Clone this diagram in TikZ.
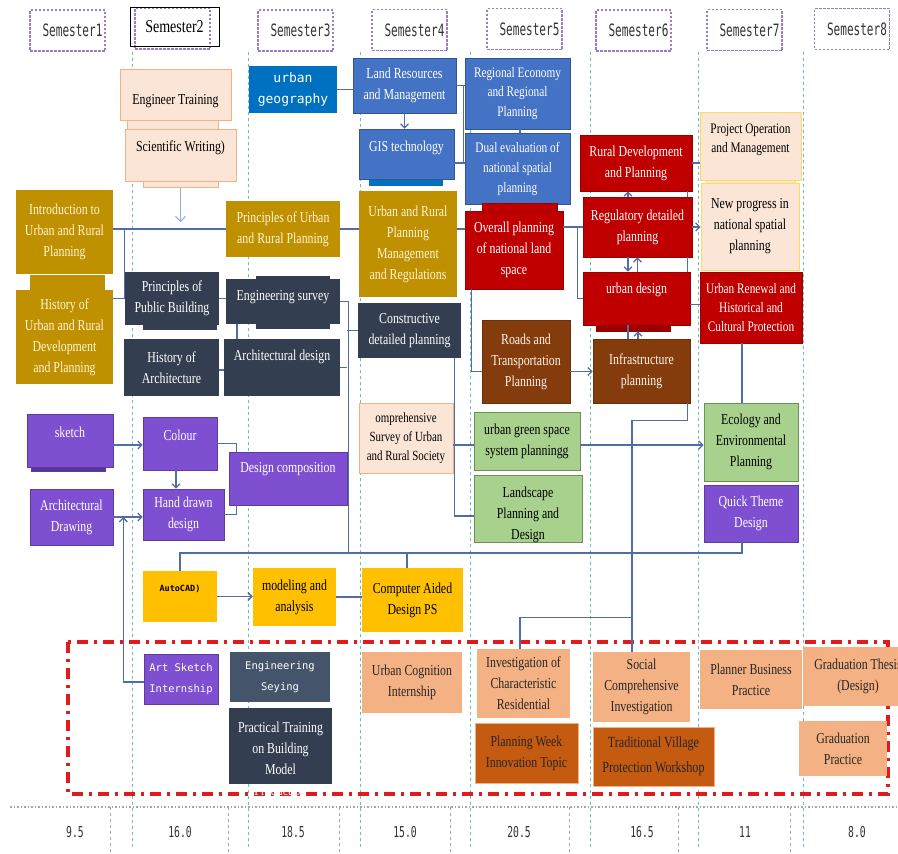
\documentclass[tikz,border=0pt]{standalone}
\usepackage{fontspec}
\usepackage{xcolor}
\usepackage{tikz}
\usetikzlibrary{arrows.meta}

\newfontfamily\boxfont[FakeStretch=0.78]{Liberation Serif}
\newfontfamily\semfont[FakeStretch=0.65]{DejaVu Sans Mono}
\newfontfamily\codefont{DejaVu Sans Mono}

\definecolor{goldc}{HTML}{BF9000}
\definecolor{goldtxt}{HTML}{FFF5D6}
\definecolor{bluec}{HTML}{4472C4}
\definecolor{geoc}{HTML}{0070C0}
\definecolor{slatec}{HTML}{333F50}
\definecolor{slatelt}{HTML}{44546A}
\definecolor{purplec}{HTML}{7E4FD1}
\definecolor{redc}{HTML}{C00000}
\definecolor{brownc}{HTML}{843C0C}
\definecolor{greenc}{HTML}{A9D18E}
\definecolor{greenb}{HTML}{6F8F5A}
\definecolor{peachc}{HTML}{FBE5D6}
\definecolor{peachb}{HTML}{F4B183}
\definecolor{yellowc}{HTML}{FFC000}
\definecolor{apricot}{HTML}{F4B183}
\definecolor{rustc}{HTML}{C55A11}
\definecolor{linkc}{HTML}{4F6EA6}
\definecolor{arrowlt}{HTML}{8FAADC}
\definecolor{tealc}{HTML}{66C2B8}
\definecolor{semc}{HTML}{9B7BC8}
\definecolor{framec}{HTML}{E31A1C}
\definecolor{gridc}{HTML}{A6A6A6}

\begin{document}
\begin{tikzpicture}[x=1pt, y=-1pt,
    box/.style={rectangle, inner sep=0pt, align=center, font=\boxfont\fontsize{15.2}{21}\selectfont},
    wh/.style 2 args={minimum width=#1pt, minimum height=#2pt},
    goldbox/.style={box, fill=goldc, text=goldtxt},
    bluebox/.style={box, fill=bluec, draw=bluec!75!black, line width=0.6pt, text=white},
    slatebox/.style={box, fill=slatec, text=white},
    purplebox/.style={box, fill=purplec, draw=purplec!75!black, line width=0.6pt, text=white},
    redbox/.style={box, fill=redc, draw=redc!80!black, line width=0.6pt, text=white},
    brownbox/.style={box, fill=brownc, draw=brownc!80!black, line width=0.6pt, text=white!92!orange},
    greenbox/.style={box, fill=greenc, draw=greenb, line width=0.8pt, text=black},
    peachbox/.style={box, fill=peachc, draw=peachb, line width=0.8pt, text=black},
    yellowbox/.style={box, fill=yellowc, text=black},
    apribox/.style={box, fill=apricot, text=black!85},
    rustbox/.style={box, fill=rustc, draw=apricot, line width=0.6pt, text=black!85},
    wtxt/.style={font=\boxfont\fontsize{15.2}{21}\selectfont, text=white, align=center, inner sep=0pt},
    ktxt/.style={wtxt, text=black},
    code/.style={font=\codefont\fontsize{10.5}{21}\selectfont},
    link/.style={draw=linkc, line width=1.3pt},
    arrowlink/.style={link, -{Straight Barb[length=4pt, width=8pt]}},
    sem/.style={draw=semc, line width=1.6pt, dash pattern=on 2.5pt off 1.5pt, wh={75}{41}},
    semtxt/.style={font=\semfont\fontsize{17}{20}\selectfont, text=black!80},
    colsep/.style={draw=tealc, dashed, line width=0.8pt}
]
\useasboundingbox (0,0) rectangle (898,854);
\fill[white] (0,0) rectangle (898,854);

% column separators
\foreach \x in {132,248,360,470,590,698,803}
    \draw[colsep] (\x,52) -- (\x,850);

% semester headers
\foreach \n/\x/\y in {1/67.5/30.5, 3/295.5/30.5, 4/409.5/30, 5/524.5/29, 6/633.5/30.5, 7/744.5/30, 8/852/29}
    \node[sem, label={[semtxt, xshift=5pt]center:Semester\n}] (sem\n) at (\x,\y) {};
\node[sem] (sem2) at (172.5,28.5) {};
\node[draw=black, line width=0.8pt, wh={89}{39}, inner sep=0pt,
      font=\boxfont\fontsize{18}{20}\selectfont] (sem2lbl) at (174.5,26.5) {Semester2};

% credits row
\draw[gridc, dotted, line width=1.5pt] (10,807) -- (898,807);
\foreach \x in {110,228,339,450,569,678,790}
    \draw[gridc, dashed, line width=0.8pt] (\x,807) -- (\x,854);
\foreach \v/\x in {9.5/75, 16.0/180, 18.5/293, 15.0/405, 20.5/519, 16.5/642, 11/745, 8.0/857}
    \node[semtxt, font=\semfont\fontsize{15}{18}\selectfont] (cr\x) at (\x,832) {\v};

% practice block
\draw[framec, line width=3.5pt, dash pattern=on 11pt off 6pt on 3pt off 6pt] (68,642) rectangle (888,794);

% Semester 1
\node[goldbox, wh={97}{84}] (intro) at (64.5,232) {Introduction to\\Urban and Rural\\Planning};
\node[goldbox, wh={75}{16}] (introtab) at (67.5,283) {};
\node[goldbox, wh={97}{94}] (histurb) at (64.5,337) {History of\\Urban and Rural\\Development\\and Planning};
\node[purplebox, fill=purplec!70!black, wh={74}{5}] (sketchbar) at (68,468.5) {};
\node[purplebox, wh={86}{53}, label={[wtxt, yshift=8.5pt]center:sketch}] (sketch) at (70,440.5) {};
\node[purplebox, wh={83}{56}] (archdraw) at (71.5,517) {Architectural\\Drawing};

% Semester 2
\node[peachbox, wh={91}{14}] (engtab) at (172.5,124) {};
\node[peachbox, wh={111}{51}, label={[ktxt, yshift=-6.5pt]center:Engineer Training}] (engtrain) at (175.5,94.5) {};
\node[peachbox, wh={75}{9}] (scitab) at (180.5,183) {};
\node[peachbox, wh={111}{52}, label={[ktxt, yshift=7pt]center:Scientific Writing)}] (sciwrite) at (180.5,155) {};
\node[slatebox, wh={74}{6}] (pubbar) at (180,327) {};
\node[slatebox, wh={94}{53}] (pubbuild) at (172,298.5) {Principles of\\Public Building};
\node[slatebox, wh={95}{57}] (histarch) at (171.5,367.5) {History of\\Architecture};
\node[purplebox, wh={74}{53}, label={[wtxt, yshift=8.5pt]center:Colour}] (colour) at (180,443.5) {};
\node[purplebox, wh={81}{51}] (handdrawn) at (183.5,514.5) {Hand drawn\\design};
\node[purplebox, wh={118}{53}, label={[wtxt, yshift=9.5pt]center:Design composition}] (designcomp) at (288,478.5) {};
\node[yellowbox, wh={74}{51}, label={[font=\codefont\bfseries\fontsize{8.5}{10}\selectfont, yshift=7.5pt]center:AutoCAD)}] (autocad) at (180,596.5) {};
\node[purplebox, wh={74}{50}, code] (artsketch) at (181,679) {Art Sketch\\Internship};

% Semester 3
\node[box, fill=geoc, text=white, wh={88}{47}, font=\codefont\fontsize{13}{21}\selectfont] (urbgeo) at (293,89.5) {urban\\geography};
\node[goldbox, wh={114}{56}] (prinurb) at (283,229) {Principles of Urban\\and Rural Planning};
\node[slatebox, wh={74}{4}] (esbar) at (293,278) {};
\node[slatebox, wh={74}{5}] (esbar2) at (293,326) {};
\node[slatebox, wh={114}{45}, label={[wtxt, yshift=4.5pt]center:Engineering survey}] (engsurvey) at (283,301.5) {};
\node[slatebox, wh={116}{57}, label={[wtxt, yshift=10.5pt]center:Architectural design}] (archdesign) at (282,367.5) {};
\node[yellowbox, wh={83}{58}] (modeling) at (294.5,597) {modeling and\\analysis};
\node[slatebox, fill=slatelt, wh={100}{50}, code] (engseying) at (280,677) {Engineering\\Seying};
\node[slatebox, wh={103}{76}, label={[wtxt, yshift=-12.5pt]center:Practical Training\\on Building\\Model\\Production}] (practrain) at (280.5,746) {};

% Semester 4
\node[bluebox, wh={103}{55}] (landres) at (404.5,85.5) {Land Resources\\and Management};
\node[box, fill=geoc, wh={74}{7}] (gisbar) at (406,182) {};
\node[bluebox, wh={95}{50}, label={[wtxt, yshift=6pt]center:GIS technology}] (gis) at (406.5,154) {};
\node[goldbox, wh={98}{106}] (urpm) at (408,244) {Urban and Rural\\Planning\\Management\\and Regulations};
\node[slatebox, wh={103}{55}] (constructive) at (409.5,330.5) {Constructive\\detailed planning};
\node[peachbox, wh={94}{70}, font=\boxfont\fontsize{14}{19}\selectfont] (survey) at (406,438) {omprehensive\\Survey of Urban\\and Rural Society};
\node[yellowbox, wh={101}{64}] (cad) at (412.5,600) {Computer Aided\\Design PS};
\node[apribox, wh={100}{61}] (urbcog) at (412,682.5) {Urban Cognition\\Internship};

% Semester 5
\node[bluebox, wh={105}{71}, font=\boxfont\fontsize{14.5}{19.5}\selectfont] (regecon) at (517.5,93.5) {Regional Economy\\and Regional\\Planning};
\node[bluebox, wh={105}{71}, font=\boxfont\fontsize{14.5}{20}\selectfont] (dualeval) at (517.5,168.5) {Dual evaluation of\\national spatial\\planning};
\node[redbox, wh={75}{8}] (ovbar) at (519.5,207.5) {};
\node[redbox, wh={98}{78}] (overall) at (514,250) {Overall planning\\of national land\\space};
\node[brownbox, wh={88}{83}] (roads) at (526,361.5) {Roads and\\Transportation\\Planning};
\node[greenbox, wh={106}{58}] (green) at (527,441) {urban green space\\system planningg};
\node[greenbox, wh={108}{67}, label={[ktxt, yshift=-6.5pt]center:Landscape\\Planning and\\Design}] (landscape) at (528,508.5) {};
\node[apribox, wh={93}{69}] (investig) at (523.5,683.5) {Investigation of\\Characteristic\\Residential};
\node[rustbox, wh={103}{60}] (planweek) at (526.5,753) {Planning Week\\Innovation Topic};

% Semester 6
\node[redbox, wh={112}{56}] (ruraldev) at (636,163) {Rural Development\\and Planning};
\node[redbox, wh={109}{60}] (regul) at (637.5,227) {Regulatory detailed\\planning};
\node[redbox, fill=redc!80!black, wh={74}{6}] (udbar) at (633,328) {};
\node[redbox, wh={107}{53}, label={[wtxt, yshift=8.5pt]center:urban design}] (urbdesign) at (636.5,298.5) {};
\node[brownbox, wh={97}{64}] (infra) at (641.5,371) {Infrastructure\\planning};
\node[apribox, wh={97}{70}] (social) at (641.5,687) {Social\\Comprehensive\\Investigation};
\node[rustbox, wh={121}{59}, font=\boxfont\fontsize{15.5}{25}\selectfont] (tradvil) at (653.5,756.5) {Traditional Village\\Protection Workshop};

% Semester 7
\node[peachbox, draw=yellowc!60, wh={89}{5}] (projbar) at (750.5,182) {};
\node[peachbox, draw=yellowc!60, wh={101}{68}, label={[ktxt, yshift=6.5pt, font=\boxfont\fontsize{14.5}{19}\selectfont]center:Project Operation\\and Management}] (projop) at (750.5,146) {};
\node[peachbox, draw=yellowc!60, wh={98}{87}] (newprog) at (750,226.5) {New progress in\\national spatial\\planning};
\node[redbox, wh={102}{71}, font=\boxfont\fontsize{14.5}{19}\selectfont] (renewal) at (751,307.5) {Urban Renewal and\\Historical and\\Cultural Protection};
\node[greenbox, wh={94}{78}] (ecology) at (751,442) {Ecology and\\Environmental\\Planning};
\node[purplebox, wh={94}{57}] (quick) at (751,513.5) {Quick Theme\\Design};
\node[apribox, wh={102}{59}] (planner) at (751,679.5) {Planner Business\\Practice};

% Semester 8
\node[apribox, wh={110}{59}] (gradthesis) at (858,676.5) {Graduation Thesis\\(Design)};
\node[apribox, wh={88}{55}] (gradpract) at (843,748.5) {Graduation\\Practice};

% connections: theory line
\draw[-{Straight Barb[length=5pt, width=10pt]}, draw=arrowlt, line width=1pt, shorten >=7pt]
    (scitab.south) -- (scitab.south |- prinurb.west);
\draw[link] (intro.east |- prinurb.west) -- (prinurb.west);
\coordinate (introjoin) at (pubbuild.west |- prinurb.west);
\draw[link] (introjoin) |- (histurb.east |- pubbuild.west);
\draw[link] (prinurb.east) -- (prinurb.east -| urpm.west);
\draw[link] (urpm.east |- prinurb.east) -- (overall.west |- prinurb.east);
\draw[link] (overall.east |- regul.west) -- (regul.west);
\coordinate (ovjoin) at ([xshift=14pt]overall.east |- regul.west);
\draw[link] (ovjoin) |- (urbdesign.west);
\draw[link] ([xshift=7pt]overall.south west) |- ([yshift=-10pt]roads.west);
\draw[arrowlink] ([yshift=-10pt]roads.east) -- ([yshift=-10pt]roads.east -| infra.west);

% connections: land and space planning
\draw[link] (urbgeo.east) -- (urbgeo.east -| landres.west);
\draw[link] (landres.east) -- (landres.east -| regecon.west);
\coordinate (lrjoin) at ([xshift=7pt]landres.east);
\draw[link] ([yshift=-9pt]gis.east) -| (lrjoin);
\draw[link] ([yshift=-9pt]gis.east) -- ([yshift=-9pt]gis.east -| dualeval.west);
\draw[arrowlink] (landres.south) -- (landres.south |- gis.north);
\draw[link] ([xshift=2.5pt]regecon.south) -- ([xshift=2.5pt]dualeval.north);

% connections: semester 6 and 7
\draw[link] (ruraldev.east) -- (ruraldev.east -| projop.west);
\draw[arrowlink] (regul.east) -- (regul.east -| newprog.west);
\draw[link] ([yshift=-6pt]urbdesign.east) -- ([yshift=-6pt]urbdesign.east -| renewal.west);
\draw[arrowlink] ([xshift=-9.5pt]regul.north) -- ([xshift=-9.5pt]regul.north |- ruraldev.south);
\draw[link] ([xshift=-5pt]ruraldev.south east) -- ([xshift=-5pt]ruraldev.south east |- regul.north);
\draw[arrowlink] ([xshift=-9.5pt]regul.south) -- ([xshift=-9.5pt]regul.south |- urbdesign.north);
\draw[arrowlink] ([xshift=1pt]urbdesign.north) -- ([xshift=1pt]urbdesign.north |- regul.south);
\draw[link] ([xshift=-5pt]regul.south east) -- ([xshift=-5pt]regul.south east |- urbdesign.north);
\draw[arrowlink] ([xshift=-3.5pt]infra.north) -- ([xshift=-3.5pt]infra.north |- udbar.south);
\draw[link] ([xshift=-13.5pt]infra.north) -- ([xshift=-13.5pt]infra.north |- urbdesign.south);
\draw[link] ([xshift=-3pt]infra.south east) -- ++(0,17) -| ([xshift=-9.5pt]social.north);
\draw[link] ([xshift=-9.5pt]social.north) ++(0,-34) -| ([xshift=-3.5pt]investig.north);
\draw[link] ([xshift=-9pt]renewal.south) -- ([xshift=-9pt]renewal.south |- ecology.north);
\draw[arrowlink] ([yshift=-4pt]green.east) -- ([yshift=-4pt]green.east -| ecology.west);

% connections: survey, landscape and construction
\draw[link] ([yshift=-7pt]survey.east) -- ([yshift=-7pt]survey.east -| green.west);
\draw[link] ([xshift=-7pt]constructive.south east) |- ([yshift=-7.5pt]landscape.west);
\coordinate (rail) at (0,553);
\draw[link] (pubbuild.east) -- (pubbuild.east -| engsurvey.west);
\draw[link] ([yshift=-2.5pt]histarch.east) -- ([yshift=-2.5pt]histarch.east -| archdesign.west);
\draw[link] ([xshift=-46pt]engsurvey.south) -- ([xshift=-46pt]engsurvey.south |- archdesign.north);
\draw[link] (engsurvey.east) -| ([xshift=1pt]designcomp.east |- rail);
\draw[link] (archdesign.east) -- (archdesign.east -| designcomp.east);
\draw[link] (constructive.west) -- (constructive.west -| designcomp.east);
\draw[link] (autocad.north) |- ([xshift=-9pt]quick.south |- rail) -- ([xshift=-9pt]quick.south);
\draw[link] ([xshift=-5.5pt]cad.north) -- ([xshift=-5.5pt]cad.north |- rail);
\draw[arrowlink] (autocad.east) -- (autocad.east -| modeling.west);
\draw[link] (modeling.east) -- (modeling.east -| cad.west);

% connections: drawing skills
\draw[arrowlink] ([yshift=-4.5pt]sketch.east) -- ([yshift=-4.5pt]sketch.east -| colour.west);
\draw[arrowlink] (archdraw.east) -- (archdraw.east -| handdrawn.west);
\draw[arrowlink] ([xshift=-4pt]colour.south) -- ([xshift=-4pt]colour.south |- handdrawn.north);
\draw[link] (colour.east) -| ([xshift=8pt]designcomp.north west);
\draw[link] (handdrawn.east) -| ([xshift=8pt]designcomp.south west);
\draw[arrowlink] ([yshift=-3pt]artsketch.west) -| ([xshift=10pt]archdraw.east);
\end{tikzpicture}
\end{document}
